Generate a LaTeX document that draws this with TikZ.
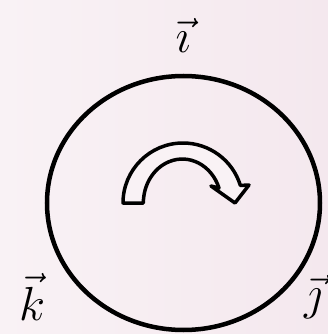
\RequirePackage{fix-cm}
\documentclass[tikz,border=0pt]{standalone}
\usepackage{tikz}
\definecolor{bgleft}{RGB}{249,242,245}
\definecolor{bgright}{RGB}{244,232,238}
\definecolor{inkblack}{RGB}{0,0,0}
\tikzset{vecl/.style={inner sep=0pt,font=\fontsize{48}{56}\selectfont}}

\begin{document}
\begin{tikzpicture}[x=1bp,y=1bp]
\useasboundingbox (0,0) rectangle (328,334);
\clip (0,0) rectangle (328,334); %crops the labels at the border
\shade[left color=bgleft,right color=bgright] (0,0) rectangle (328,334); %Background
\draw[inkblack,line width=4.5bp] (183.5,131) ellipse [x radius=136.5,y radius=127]; %Ring
\draw[inkblack,line width=3.5bp,line join=round,fill=bgleft] (123,131) arc[start angle=180,end angle=17,x radius=60,y radius=60] -- (249,149) -- (235,131) -- (211,148) -- (219,146) arc[start angle=20,end angle=180,x radius=39,y radius=44] -- cycle; %Turning arrow
\node[vecl,anchor=base] (ivec) at (183,282) {$\vec{\imath}$};
\node[vecl,anchor=base] (kvec) at (32,14) {$\vec{k}$};
\node[vecl,anchor=base west] (jvec) at (304,25) {$\vec{\jmath}$};
\end{tikzpicture}
\end{document}
